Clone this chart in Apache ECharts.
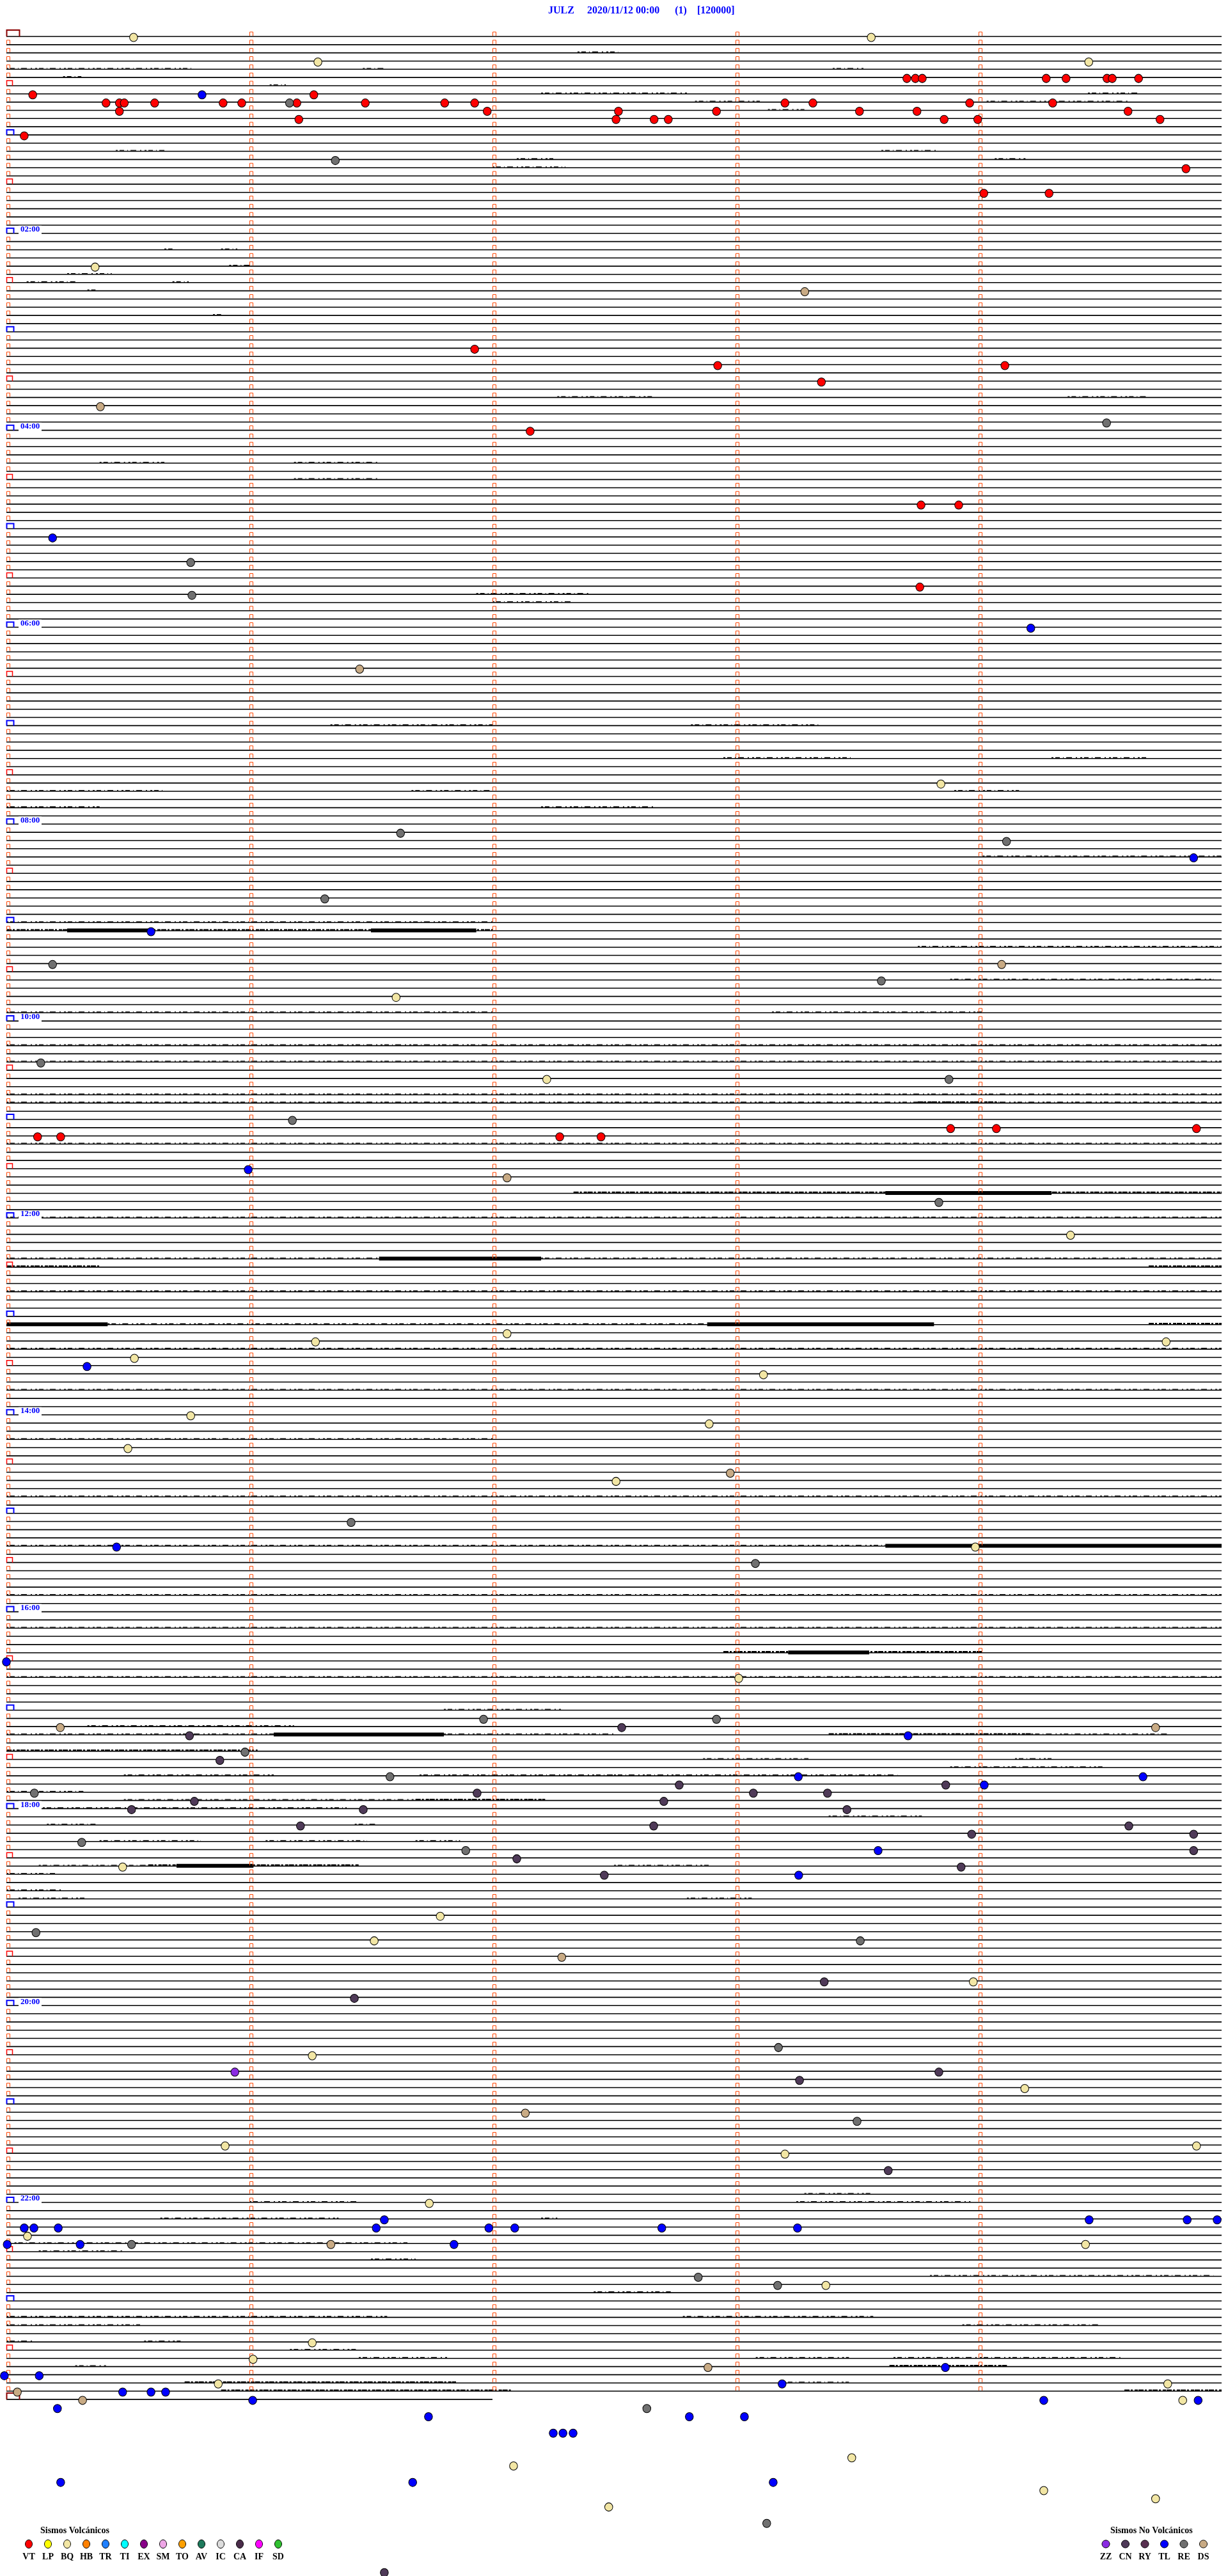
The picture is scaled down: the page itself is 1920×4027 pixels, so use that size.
<!DOCTYPE html>
<html><head><meta charset="utf-8">
<script src="https://cdn.jsdelivr.net/npm/echarts@6/dist/echarts.min.js"></script>
<style>html,body{margin:0;padding:0;background:#fff}#chart{width:1920px;height:4027px}</style>
</head><body><div id="chart"></div>
<script>
// ---------------- DATA ----------------
const stationTitle = 'JULZ     2020/11/12 00:00      (1)    [120000]';
const rowMinutes = 5;               // each trace row = 5 minutes
const rowCount = 288;               // full rows 00:00 .. 23:55
const lastRowSeconds = 120;         // partial row at 24:00
const minuteTicks = [0, 60, 120, 180, 240];
const hourLabelRows = [24, 48, 72, 96, 120, 144, 168, 192, 216, 240, 264];
const hourLabels = ['02:00', '04:00', '06:00', '08:00', '10:00', '12:00', '14:00', '16:00', '18:00', '20:00', '22:00'];

// events: [secondsWithinRow, row]
const eventsVT = [
  [222.3,5],[224.4,5],[226.1,5],[256.7,5],[261.6,5],[271.7,5],[273.0,5],[279.5,5],
  [6.5,7],[75.9,7],
  [24.6,8],[27.9,8],[29.1,8],[36.6,8],[53.5,8],[58.1,8],[71.7,8],[88.6,8],[108.2,8],[115.6,8],[192.2,8],[199.1,8],[237.8,8],[258.3,8],
  [27.9,9],[118.7,9],[151.1,9],[175.3,9],[210.6,9],[224.8,9],[276.9,9],
  [72.2,10],[150.5,10],[159.9,10],[163.4,10],[231.5,10],[239.8,10],[284.8,10],
  [4.4,12],[291.2,16],[241.3,19],[257.4,19],[115.6,38],[175.6,40],[246.5,40],[201.2,42],[129.3,48],
  [225.8,57],[235.1,57],[225.5,67],
  [233.1,133],[244.4,133],[293.8,133],[7.7,134],[13.4,134],[136.6,134],[146.8,134]
];
const eventsBQ = [
  [31.4,0],[213.5,0],[76.9,3],[267.2,3],[21.9,28],[230.7,91],[96.2,117],[133.4,127],[262.7,146],
  [123.6,158],[76.3,159],[286.3,159],[31.6,161],[186.9,163],[45.5,168],[173.5,169],[30.0,172],
  [150.5,176],[239.2,184],[180.8,200],[28.7,223],[107.1,229],[90.8,232],[238.7,237],[75.5,246],
  [251.4,250],[54.0,257],[293.8,257],[192.2,258],[104.4,264],[5.2,268],[266.4,269],[202.3,274],
  [75.5,281],[60.9,283],[52.3,286],[286.7,286],[290.4,288],[208.7,295],[125.2,296],[256.1,299],
  [283.7,300],[148.7,301]
];
const eventsTL = [
  [48.3,7],[11.4,61],[252.9,72],[293.1,100],[35.7,109],[59.7,138],[19.9,162],[27.2,184],[0,198],
  [222.6,207],[195.5,212],[280.6,212],[241.4,213],[215.2,221],[195.6,224],
  [93.3,266],[267.3,266],[291.5,266],[298.9,266],
  [4.4,267],[6.8,267],[12.8,267],[91.3,267],[119.1,267],[125.5,267],[161.8,267],[195.3,267],
  [0.2,269],[18.2,269],[110.5,269],[231.8,284],[-0.5,285],[8.1,285],[191.5,286],
  [28.7,287],[35.7,287],[39.3,287],[60.8,288],[256.1,288],[294.2,288],[12.6,289],
  [104.2,290],[168.6,290],[182.2,290],[135.0,292],[137.4,292],[139.9,292],[13.4,298],[100.3,298],[189.3,298]
];
const eventsRE = [
  [69.9,8],[81.2,15],[271.6,47],[45.5,64],[45.8,68],[97.3,97],[246.9,98],[78.6,105],[11.4,113],
  [216.0,115],[8.5,125],[232.7,127],[70.6,132],[230.2,142],[85.1,181],[184.9,186],[117.8,205],
  [175.3,205],[58.9,209],[94.7,212],[6.9,214],[18.6,220],[113.4,221],[7.3,231],[210.8,232],
  [190.6,245],[210.0,254],[30.9,269],[170.8,273],[190.4,274],[158.1,289],[187.7,303]
];
const eventsDS = [
  [197.1,31],[23.2,45],[87.2,77],[245.7,113],[123.6,139],[178.7,175],[13.3,206],[283.7,206],
  [137.1,234],[128.1,253],[80.1,269],[173.2,284],[2.7,287],[18.8,288]
];
const eventsCN = [
  [151.9,206],[45.2,207],[52.7,210],[166.1,213],[231.9,213],[116.2,214],[184.4,214],[202.7,214],
  [46.4,215],[162.3,215],[30.9,216],[88.1,216],[207.5,216],[72.6,218],[159.8,218],[277.1,218],
  [238.3,219],[293.1,219],[293.1,221],[126.0,222],[235.7,223],[147.6,224],[201.9,237],[85.9,239],
  [230.2,248],[195.8,249],[217.7,260],[93.3,309]
];
const eventsZZ = [[56.4,248]];

// noise bursts on the traces: [row, startSec, endSec, level 1..3]
const noiseBursts = [
  [2,141,151,1],[4,0,46,1],[4,88,94,1],[4,204,212,1],[5,14,18.5,1],[6,65,69,1],[7,132,168,1],[7,267,280,1],
  [8,170,186,1],[8,242,277,1],[9,188,197,1],[14,27,39,1],[14,216,230,1],[15,126,135,1],[15,244,252,1],[16,120,138,1],
  [26,39,41,1],[26,53,57,1],[28,55,61,1],[29,15,26,1],[30,5,17,1],[30,41,45,1],[31,20,22,1],[34,51,53,1],
  [44,136,160,1],[44,262,282,1],[52,23,39,1],[52,71,92,1],[54,71,92,1],[68,116,144,1],[69,120,140,1],
  [84,80,120,1],[84,169,201,1],[88,177,209,1],[88,258,282,1],[92,0,39,1],[92,100,120,1],[92,234,250,1],
  [94,0,23,1],[94,132,160,1],[100,241,300,1],[108,0,120,1],
  [109,0,120,2],[109,15,35,3],[109,90,116,3],[111,225,300,1],[115,233,298,1],[119,0,120,1],[119,189,241,1],
  [123,0,300,1],[125,0,300,1],[129,0,300,1],[130,0,300,1],[130,225,245,2],
  [135,0,300,1],[141,140,300,2],[141,217,258,3],[144,0,300,1],
  [149,0,92,1],[149,92,132,3],[149,132,300,1],[150,0,23,2],[150,282,300,2],[153,0,300,1],
  [157,0,25,3],[157,25,173,1],[157,173,229,3],[157,282,300,2],[160,0,300,1],[165,0,300,1],[171,0,120,1],
  [178,0,300,1],[184,0,217,1],[184,217,300,3],[190,0,300,1],[194,0,300,1],[197,177,241,2],[197,193,213,3],[200,0,300,1],
  [204,108,137,1],[206,20,71,1],[207,0,66,1],[207,66,108,3],[207,108,150,1],[207,203,253,2],[207,253,287,1],
  [209,0,62,2],[210,172,198,1],[210,249,258,1],[211,233,271,1],[212,29,66,1],[212,102,150,1],[212,150,220,1],
  [214,0,19,1],[215,29,101,1],[215,101,133,2],[216,9,84,1],[217,203,226,1],[218,10,22,1],[218,86,91,1],
  [220,23,48,1],[220,64,89,1],[220,101,112,1],[223,8,35,1],[223,35,87,2],[223,42,61,3],[223,150,174,1],
  [224,0,12,1],[226,0,14,1],[227,3,20,1],[227,168,184,1],
  [263,197,214,1],[264,60,87,1],[264,195,238,1],[266,38,82,1],[266,132,136,1],[269,2,99,1],[270,8,29,1],
  [271,90,101,1],[273,228,298,1],[275,145,164,1],[278,0,94,1],[278,167,214,1],[279,0,33,1],[279,236,270,1],
  [281,0,6.5,1],[281,34,43,1],[282,70,87,1],[283,87,109,1],[283,185,208,1],[283,219,275,1],
  [284,17,25,1],[284,218,247,2],[286,44,111,2],[286,192,208,1],[287,53,125,2],[287,276,300,2]
];

// legend
const volcanicTypes  = ['VT','LP','BQ','HB','TR','TI','EX','SM','TO','AV','IC','CA','IF','SD'];
const volcanicColors = ['#FF0000','#FFFF00','#F2E6A4','#FF8000','#2080FF','#00FFFF','#880088','#EEA6E6','#FFA000','#1E7A5C','#DCDCDC','#4A2C4A','#FF00FF','#30C030'];
const nonVolcanicTypes  = ['ZZ','CN','RY','TL','RE','DS'];
const nonVolcanicColors = ['#8A2BE2','#4F3A58','#583050','#0000FF','#707070','#C8AA84'];

// ---------------- LAYOUT ----------------
const W = 1920, H = 4027;
const plotLeft = 10, plotWidth = 1900;         // px for 300 s
const rowTop = 57, rowGap = 12.826;            // px
const secPerRow = rowMinutes * 60;
const XMIN = -plotLeft / plotWidth * secPerRow;
const XMAX = (W - plotLeft) / plotWidth * secPerRow;
const YMIN = -rowTop / rowGap;
const YMAX = (H - rowTop) / rowGap;
const FONT = '"Liberation Serif","Times New Roman",serif';

const chart = echarts.init(document.getElementById('chart'), null, {renderer: 'canvas', width: W, height: H});

// rows: [row, endSec]
const rowData = [];
for (let r = 0; r < rowCount; r++) rowData.push([r, secPerRow]);
rowData.push([rowCount, lastRowSeconds]);

// markers: [row, sec, kind] kind 0=minute,1=half-hour,2=hour,3=day-start
const markerData = [];
for (let r = 0; r <= rowCount; r++) {
  let kind0 = 0;
  if (r % 288 === 0) kind0 = 3; else if (r % 12 === 0) kind0 = 2; else if (r % 6 === 0) kind0 = 1;
  markerData.push([r, 0, kind0]);
  if (r < rowCount) minuteTicks.slice(1).forEach(s => markerData.push([r, s, 0]));
}

const typeColor = {};
volcanicTypes.forEach((t,i)=>typeColor[t]=volcanicColors[i]);
nonVolcanicTypes.forEach((t,i)=>typeColor[t]=nonVolcanicColors[i]);
const eventSets = [['VT',eventsVT],['BQ',eventsBQ],['TL',eventsTL],['RE',eventsRE],['DS',eventsDS],['CN',eventsCN],['ZZ',eventsZZ]];

const series = [];
series.push({
  type: 'custom', name: 'rows', z: 1, silent: true, animation: false,
  encode: {x: 1, y: 0},
  data: rowData,
  renderItem: (p, api) => {
    const r = api.value(0), e = api.value(1);
    const a = api.coord([0, r]), b = api.coord([e, r]);
    return {type: 'line', shape: {x1: a[0], y1: a[1], x2: b[0], y2: b[1]}, style: {stroke: '#000', lineWidth: 1.6}};
  }
});
series.push({
  type: 'custom', name: 'noise', z: 2, silent: true, animation: false,
  encode: {x: 1, y: 0},
  data: noiseBursts,
  renderItem: (p, api) => {
    const r = api.value(0), s0 = api.value(1), s1 = api.value(2), lv = api.value(3);
    const a = api.coord([s0, r]), b = api.coord([s1, r]);
    const styles = {
      1: {off: -1.4, w: 1.3, dash: [3,3,7,5,1,4,9,6,2,5]},
      2: {off: -1.4, w: 2.4, dash: [8,2,3,3,5,1]},
      3: {off: -0.5, w: 6, dash: null}
    };
    const st = styles[lv];
    return {type: 'line', shape: {x1: a[0], y1: a[1] + st.off, x2: b[0], y2: b[1] + st.off},
      style: {stroke: '#000', lineWidth: st.w, lineDash: st.dash}};
  }
});
series.push({
  type: 'custom', name: 'markers', z: 3, silent: true, animation: false,
  encode: {x: 1, y: 0},
  data: markerData,
  renderItem: (p, api) => {
    const r = api.value(0), s = api.value(1), k = api.value(2);
    const c = api.coord([s, r]);
    const x = Math.round(c[0]) + 0.5, y = c[1];
    let w = 5, h = 6, color = '#FF4500', lw = 1;
    if (k === 1) { w = 9; h = 8; color = '#FF0000'; lw = 1.5; }
    if (k === 2) { w = 11; h = 8; color = '#0000FF'; lw = 2; }
    if (k === 3) { w = 20; h = 10; color = '#8B0000'; lw = 2; }
    const yb = k === 0 ? y - 1 : y;
    return {type: 'polyline', shape: {points: [[x, yb], [x, yb - h], [x + w, yb - h], [x + w, yb]]},
      style: {stroke: color, lineWidth: lw, fill: null}};
  }
});
series.push({
  type: 'custom', name: 'hours', z: 4, silent: true, animation: false,
  encode: {x: 1, y: 0},
  data: hourLabelRows.map(r => [r, 0]),
  renderItem: (p, api) => {
    const r = api.value(0);
    const c = api.coord([0, r]);
    return {type: 'group', children: [
      {type: 'rect', shape: {x: c[0] + 19, y: c[1] - 12, width: 36, height: 14}, style: {fill: '#fff'}},
      {type: 'text', style: {text: hourLabels[p.dataIndex], x: c[0] + 22, y: c[1] + 0.5, fill: '#0000FF',
        font: 'bold 13px ' + FONT, textAlign: 'left', textVerticalAlign: 'bottom'}}
    ]};
  }
});
eventSets.forEach(([t, d]) => {
  series.push({
    type: 'scatter', name: t, z: 5, animation: false, silent: true,
    symbol: 'circle', symbolSize: [12.5, 13], symbolOffset: [0, 1.5],
    itemStyle: {color: typeColor[t], borderColor: '#000', borderWidth: 1, opacity: 1},
    data: d
  });
});

// legend graphics
const graphics = [];
graphics.push({type: 'text', left: 63, top: 3949, style: {text: 'Sismos Volcánicos', fill: '#000', font: 'bold 14px ' + FONT}});
volcanicTypes.forEach((t, i) => {
  const cx = 45 + i * 30;
  graphics.push({type: 'ellipse', shape: {cx: cx, cy: 3977, rx: 5.5, ry: 6.5}, style: {fill: volcanicColors[i], stroke: '#000', lineWidth: 1}});
  graphics.push({type: 'text', x: cx, y: 3997, style: {text: t, fill: '#000', font: 'bold 14px ' + FONT, textAlign: 'center', textVerticalAlign: 'middle'}});
});
graphics.push({type: 'text', left: 1736, top: 3949, style: {text: 'Sismos No Volcánicos', fill: '#000', font: 'bold 14px ' + FONT}});
nonVolcanicTypes.forEach((t, i) => {
  const cx = 1729 + i * 30.5;
  graphics.push({type: 'ellipse', shape: {cx: cx, cy: 3977, rx: 6, ry: 6}, style: {fill: nonVolcanicColors[i], stroke: '#000', lineWidth: 1}});
  graphics.push({type: 'text', x: cx, y: 3997, style: {text: t, fill: '#000', font: 'bold 14px ' + FONT, textAlign: 'center', textVerticalAlign: 'middle'}});
});

chart.setOption({
  animation: false,
  backgroundColor: '#fff',
  title: {text: stationTitle, left: 852, top: 4, textStyle: {color: '#0000FF', fontFamily: FONT, fontWeight: 'bold', fontSize: 16}},
  grid: {left: 0, right: 0, top: 0, bottom: 0, containLabel: false},
  xAxis: {type: 'value', min: XMIN, max: XMAX, show: false},
  yAxis: {type: 'value', inverse: true, min: YMIN, max: YMAX, show: false},
  graphic: graphics,
  series: series
});
</script></body></html>
